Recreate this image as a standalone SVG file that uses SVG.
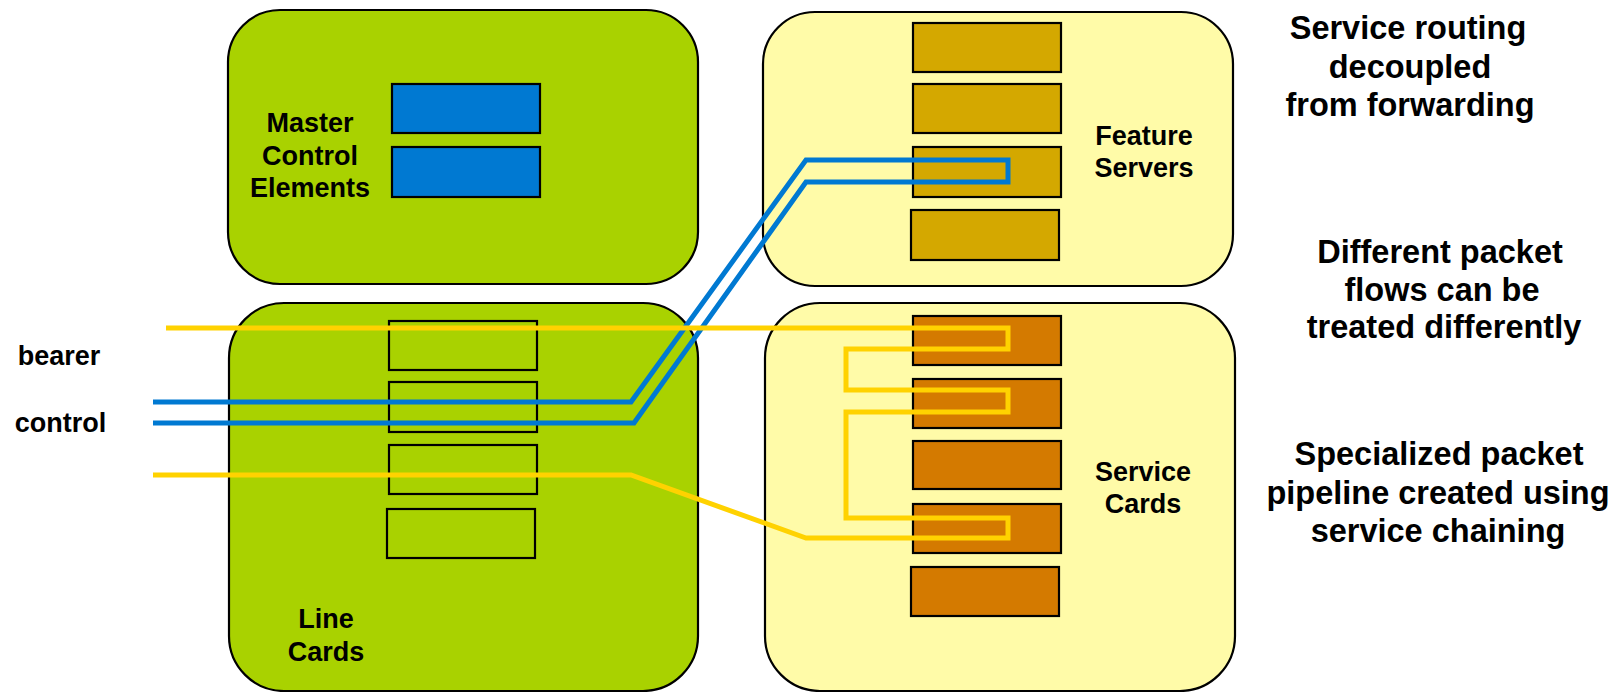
<svg xmlns="http://www.w3.org/2000/svg" width="1616" height="692" viewBox="0 0 1616 692">
<style>
.box{stroke:#000;stroke-width:2.2}
.green{fill:#A9D200}
.pale{fill:#FFFBA8}
.card{fill:none;stroke:#000;stroke-width:2.2}
.mce{fill:#0079D2;stroke:#000;stroke-width:2.2}
.fs{fill:#D4A800;stroke:#000;stroke-width:2.2}
.sc{fill:#D47A00;stroke:#000;stroke-width:2.2}
.lbl{font-family:"Liberation Sans",Arial,sans-serif;font-weight:bold;font-size:27px;fill:#000;text-anchor:middle}
.side{font-family:"Liberation Sans",Arial,sans-serif;font-weight:bold;font-size:32.5px;fill:#000;text-anchor:middle}
.blue{fill:none;stroke:#0079D2;stroke-width:5;stroke-linejoin:miter}
.yel{fill:none;stroke:#FFD200;stroke-width:5;stroke-linejoin:miter}
</style>
<g id="master">
<rect class="box green" x="228" y="10" width="470" height="274" rx="52"/>
<rect class="mce" x="392" y="84" width="148" height="49"/>
<rect class="mce" x="392" y="147" width="148" height="50"/>
<text class="lbl" x="310" y="132">Master</text>
<text class="lbl" x="310" y="165">Control</text>
<text class="lbl" x="310" y="197">Elements</text>
</g>
<g id="feature">
<rect class="box pale" x="763" y="12" width="470" height="274" rx="52"/>
<rect class="fs" x="913" y="23" width="148" height="49"/>
<rect class="fs" x="913" y="84" width="148" height="49"/>
<rect class="fs" x="913" y="147" width="148" height="50"/>
<rect class="fs" x="911" y="210" width="148" height="50"/>
<text class="lbl" x="1144" y="145">Feature</text>
<text class="lbl" x="1144" y="177">Servers</text>
</g>
<g id="linecards">
<rect class="box green" x="229" y="303" width="469" height="388" rx="55"/>
<rect class="card" x="389" y="321" width="148" height="49"/>
<rect class="card" x="389" y="382" width="148" height="50"/>
<rect class="card" x="389" y="445" width="148" height="49"/>
<rect class="card" x="387" y="509" width="148" height="49"/>
<text class="lbl" x="326" y="628">Line</text>
<text class="lbl" x="326" y="661">Cards</text>
</g>
<g id="servicecards">
<rect class="box pale" x="765" y="303" width="470" height="388" rx="55"/>
<rect class="sc" x="913" y="316" width="148" height="49"/>
<rect class="sc" x="913" y="379" width="148" height="49"/>
<rect class="sc" x="913" y="441" width="148" height="48"/>
<rect class="sc" x="913" y="504" width="148" height="49"/>
<rect class="sc" x="911" y="567" width="148" height="49"/>
<text class="lbl" x="1143" y="481">Service</text>
<text class="lbl" x="1143" y="513">Cards</text>
</g>
<g id="connectors">
<path class="blue" d="M153,402 L631,402 L806,160 L1008,160 L1008,182 L806,182 L634,423 L153,423"/>
<path class="yel" d="M166,328 L1008,328 L1008,349 L846,349 L846,390 L1008,390 L1008,412 L846,412 L846,518 L1008,518 L1008,538 L806,538 L631,475 L153,475"/>
</g>
<g id="labels">
<text class="lbl" x="59" y="365">bearer</text>
<text class="lbl" x="60.5" y="432">control</text>
<text class="side" x="1408" y="39">Service routing</text>
<text class="side" x="1410" y="78">decoupled</text>
<text class="side" x="1410" y="116">from forwarding</text>
<text class="side" x="1440" y="263">Different packet</text>
<text class="side" x="1442" y="301">flows can be</text>
<text class="side" x="1444" y="338">treated differently</text>
<text class="side" x="1439" y="465">Specialized packet</text>
<text class="side" x="1438" y="504">pipeline created using</text>
<text class="side" x="1438" y="542">service chaining</text>
</g>
</svg>
